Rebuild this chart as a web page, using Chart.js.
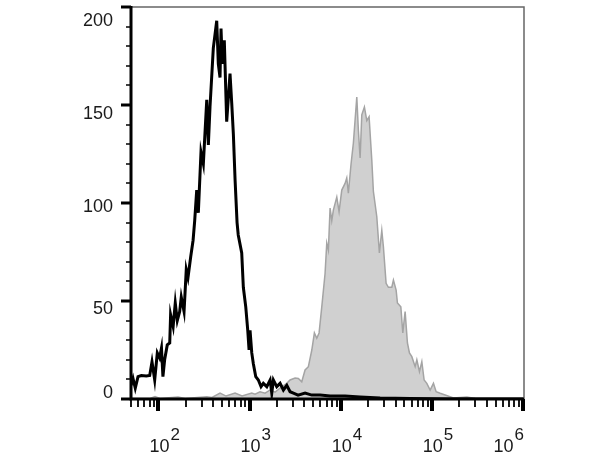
<!DOCTYPE html>
<html>
<head>
<meta charset="utf-8">
<script src="https://cdn.jsdelivr.net/npm/chart.js@4/dist/chart.umd.min.js"></script>
<style>
  html, body { margin: 0; padding: 0; background: #fff; }
  #wrap { width: 613px; height: 460px; }
</style>
</head>
<body>
<div id="wrap"><canvas id="FlowHist" width="613" height="460"></canvas></div>
<script>
(function () {
  "use strict";

  // Unstained control (black line)
  const controlX = [50, 52.6, 55.7, 59.7, 64.9, 73.6, 80.2, 85, 91, 97.2, 103, 108, 112, 117, 125, 133, 136, 145, 153, 161,
    171, 178, 191, 202, 211, 226, 240, 250, 263, 274, 293, 311, 339, 353, 368, 400, 436, 454, 474, 486,
    502, 528, 561, 610, 637, 664, 693, 729, 751, 820, 854, 908, 955, 987, 1012, 1057, 1100, 1169, 1248, 1336,
    1416, 1545, 1680, 1752, 1825, 1987, 2161, 2350, 2560, 2782, 3026, 3406, 4063, 4818, 5939, 7643, 11160, 16310, 27050, 57780,
    158900, 1000000];
  const controlCount = [7, 10.5, 5.5, 11.4, 12, 11.7, 12, 19, 9.7, 23.5, 21, 26, 11.4, 20, 27.6, 28.6, 43, 37, 49, 40,
    44.6, 52, 44.6, 66, 62, 72.6, 81, 91, 106.6, 95, 126, 120, 152.6, 129.6, 149, 179, 193, 171, 164, 189,
    171, 183, 141.5, 166, 151, 135, 112, 90, 83.7, 74.5, 57, 47, 35, 25, 35, 23.5, 18, 11.4, 9.7, 6.3,
    8, 6.3, 9.7, 3, 9.7, 6.3, 8, 4.6, 7, 3.7, 3, 2, 3, 2, 2, 1.5, 1.5, 1, 0.5, 0.3,
    0, 0];

  // Stained sample (grey filled)
  const stainedX = [50, 80.9, 91.7, 104, 164, 196, 339, 387, 474, 552, 693, 827, 1057, 1148, 1303, 1479, 1679, 1906, 2163, 2561,
    2782, 3158, 3430, 3738, 4063, 4416, 4818, 5142, 5461, 5790, 6196, 6734, 7029, 7322, 7643, 7977, 8304, 9055, 9592, 10270,
    11160, 11650, 12130, 12990, 13770, 15010, 15630, 16320, 17030, 18190, 19330, 20480, 21920, 22820, 24880, 26570, 28230, 29400, 31470, 33360,
    36360, 37880, 40540, 41900, 45660, 48000, 50890, 53960, 56760, 60300, 65560, 68430, 73100, 77620, 82250, 88070, 95780, 104100, 111400, 123300,
    139900, 172700, 242200, 298600, 1000000];
  const stainedCount = [0.3, 0.3, 1.2, 0.3, 1, 0.3, 1.2, 0.8, 3, 1.5, 3, 1.5, 3, 2.5, 3.7, 3, 4.6, 3.5, 5.6, 8,
    9.7, 10.7, 10.5, 8.8, 14.8, 16.5, 25, 33.7, 31, 33.7, 47, 64, 79.6, 76, 97.4, 91, 96.4, 103, 95.6, 106.6,
    110, 112.8, 105, 120, 130.6, 154, 137, 123, 145, 149, 142, 144, 122, 106, 93, 74.5, 86, 77.7, 59, 57,
    57, 60.7, 55.6, 49, 47, 33.7, 44.6, 28.6, 23.5, 21.6, 16.5, 20, 14, 19, 9.7, 8, 4.6, 8, 3.7, 2.9,
    2, 0.5, 1, 0.2, 0];

  // Axis labels
  const xDecades = [100, 1000, 10000, 100000, 1000000];
  const xExponents = ['2', '3', '4', '5', '6'];
  const yLabelValues = [0, 50, 100, 150, 200];

  // Colors
  const text_dark   = '#1a1a1a';
  const fill_grey   = '#d0d0d0';
  const line_grey   = '#a4a4a4';
  const font_family = "'Liberation Sans', Arial, sans-serif";

  const toPoints = (xs, ys) => xs.map((v, i) => ({ x: v, y: ys[i] }));

  // label nudges (px) as set on the original export
  const yLabelShift = { 0: -6, 50: 8, 100: 4, 150: 9, 200: 14 };

  // Axes, tick marks and labels drawn over the data
  const flowAxes = {
    id: 'flowAxes',
    afterDatasetsDraw(chart) {
      const { ctx, chartArea: a, scales } = chart;
      const sx = scales.x, sy = scales.y;
      ctx.save();

      // thin frame top / right
      ctx.strokeStyle = '#666';
      ctx.lineWidth = 1.5;
      ctx.beginPath();
      ctx.moveTo(a.left, a.top);
      ctx.lineTo(a.right + 1, a.top);
      ctx.lineTo(a.right + 1, a.bottom);
      ctx.stroke();

      ctx.strokeStyle = '#000';
      // y ticks
      for (let v = 0; v <= 200; v += 10) {
        const py = Math.round(sy.getPixelForValue(v));
        const major = v % 50 === 0;
        ctx.lineWidth = major ? 3 : 1.5;
        ctx.beginPath();
        ctx.moveTo(a.left - (major ? 10 : 5), py);
        ctx.lineTo(a.left, py);
        ctx.stroke();
      }
      // x ticks
      for (let k = 1; k <= 6; k++) {
        for (let m = 1; m <= 9; m++) {
          const v = m * Math.pow(10, k);
          if (v < sx.min - 1e-9 || v > sx.max + 1e-9) continue;
          const px = Math.round(sx.getPixelForValue(v));
          const major = m === 1;
          ctx.lineWidth = major ? 4 : 1.8;
          ctx.beginPath();
          ctx.moveTo(px, a.bottom);
          ctx.lineTo(px, a.bottom + (major ? 12 : 8));
          ctx.stroke();
        }
      }

      // main axes
      ctx.lineWidth = 3;
      ctx.beginPath();
      ctx.moveTo(a.left, a.top - 1);
      ctx.lineTo(a.left, a.bottom);
      ctx.lineTo(a.right + 1, a.bottom);
      ctx.stroke();

      // y labels
      ctx.fillStyle = text_dark;
      ctx.font = '18px ' + font_family;
      ctx.textAlign = 'right';
      ctx.textBaseline = 'middle';
      yLabelValues.forEach(function (v) {
        ctx.fillText(String(v), 113, sy.getPixelForValue(v) + yLabelShift[v]);
      });

      // x labels: 10 with superscript exponent
      ctx.textBaseline = 'alphabetic';
      ctx.textAlign = 'left';
      xDecades.forEach(function (v, i) {
        const px = sx.getPixelForValue(v);
        ctx.font = '18px ' + font_family;
        const wBase = ctx.measureText('10').width;
        ctx.font = '17px ' + font_family;
        const wExp = ctx.measureText(xExponents[i]).width;
        let left = px - wBase / 2 + 1;
        if (left + wBase + 1 + wExp > a.right + 1) left = a.right + 1 - wBase - 1 - wExp;
        ctx.font = '18px ' + font_family;
        ctx.fillText('10', left, 452);
        ctx.font = '17px ' + font_family;
        ctx.fillText(xExponents[i], left + wBase + 1, 440);
      });

      ctx.restore();
    }
  };

  const myChart = function () {
    const el = document.getElementById('FlowHist');
    if (el == null) return;
    const ctx = el.getContext('2d');
    new Chart(ctx, {
      type: 'line',
      data: {
        datasets: [{
          label: 'Control',
          data: toPoints(controlX, controlCount),
          borderColor: '#000',
          borderWidth: 3,
          fill: false,
          pointRadius: 0,
          tension: 0,
          order: 0
        },
        {
          label: 'Stained',
          data: toPoints(stainedX, stainedCount),
          borderColor: line_grey,
          backgroundColor: fill_grey,
          borderWidth: 1.5,
          fill: 'origin',
          pointRadius: 0,
          tension: 0,
          order: 1
        }]
      },
      options: {
        responsive: false,
        animation: false,
        layout: {
          padding: { left: 0, top: 7, right: 90, bottom: 0 }
        },
        plugins: {
          legend: { display: false },
          tooltip: { enabled: false }
        },
        scales: {
          x: {
            type: 'logarithmic',
            min: 50,
            max: 1000000,
            grid: { display: false, drawTicks: false },
            border: { display: false },
            ticks: { display: false },
            afterFit: function (s) { s.height = 61; }
          },
          y: {
            type: 'linear',
            min: 0,
            max: 200,
            grid: { display: false, drawTicks: false },
            border: { display: false },
            ticks: { display: false, stepSize: 10 },
            afterFit: function (s) { s.width = 131; }
          }
        }
      },
      plugins: [flowAxes]
    });
  };

  myChart();

})();
</script>
</body>
</html>
